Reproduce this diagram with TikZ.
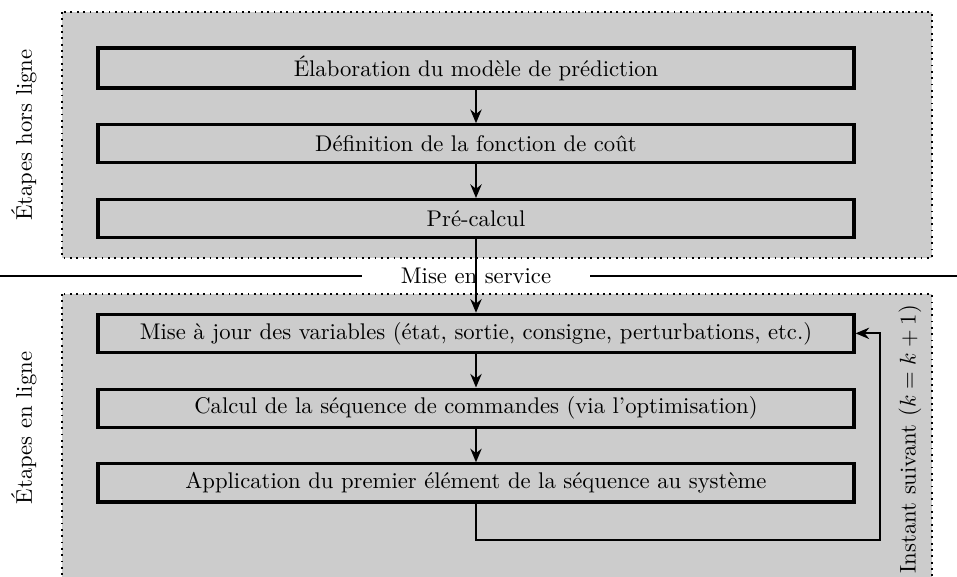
\documentclass[tikz,border=0pt]{standalone}
\usetikzlibrary{positioning, arrows.meta}

\begin{document}
\begin{tikzpicture}[x=0.0155cm, y=-0.0155cm, node distance=0.52cm,
        etape/.style={draw, line width=1.4pt, fill=gray!40, minimum width=11.72cm, minimum height=0.59cm},
        zone/.style={fill=gray!40, dotted, line width=0.8pt},
        fleche/.style={-{Stealth[length=6pt, width=5pt]}, line width=0.8pt}]
        \useasboundingbox (0,0) rectangle (957,576);

        % Draw the two zones
        \draw[zone] (62,12) rectangle (932,258);
        \draw[zone] (62,294) rectangle (932,600);

        % Offline steps
        \node[etape] (modele) at (476,68) {Élaboration du modèle de prédiction};
        \node[etape, below=of modele] (cout) {Définition de la fonction de coût};
        \node[etape, below=of cout] (precalcul) {Pré-calcul};

        % Online steps
        \node[etape, below=1.14cm of precalcul] (maj) {Mise à jour des variables (état, sortie, consigne, perturbations, etc.)};
        \node[etape, below=of maj] (optim) {Calcul de la séquence de commandes (via l'optimisation)};
        \node[etape, below=of optim] (appli) {Application du premier élément de la séquence au système};

        % Separator between the two zones
        \node[minimum width=3.53cm] (service) at (476,276) {Mise en service};
        \draw[line width=0.9pt] (0,276) -- (service.west);
        \draw[line width=0.9pt] (service.east) -- (957,276);

        % Side labels
        \node[rotate=90] (horsligne) at (24,135) {Étapes hors ligne};
        \node[rotate=90] (enligne) at (24,428) {Étapes en ligne};

        % Arrows between the steps
        \draw[fleche] (modele) -- (cout);
        \draw[fleche] (cout) -- (precalcul);
        \draw[fleche] (precalcul) -- (maj);
        \draw[fleche] (maj) -- (optim);
        \draw[fleche] (optim) -- (appli);

        % Loop back to the update step
        \coordinate (retour) at (880,540);
        \draw[fleche] (appli.south) |- (retour) |- (maj.east);
        \node[rotate=90] (instant) at (910,439) {Instant suivant ($k = k + 1$)};
    \end{tikzpicture}
\end{document}
